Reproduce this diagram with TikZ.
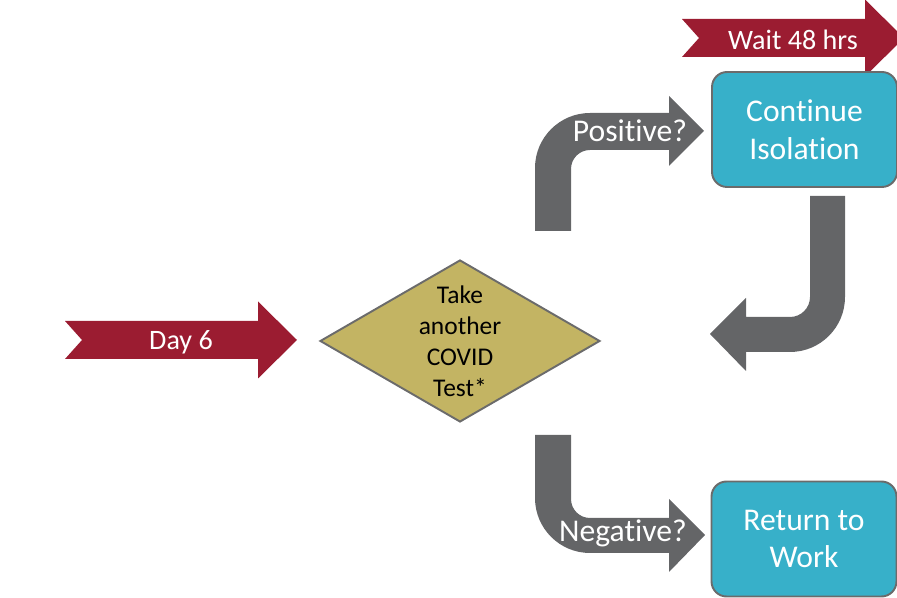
\documentclass[tikz,border=0pt]{standalone}
\usepackage{fontspec}
\setmainfont{Carlito}[Ligatures=NoCommon]
\usetikzlibrary{calc,positioning,shapes.geometric}
\definecolor{covidred}{HTML}{9B1C31}
\definecolor{arrowgray}{HTML}{646567}
\definecolor{edgegray}{HTML}{6B6B6B}
\definecolor{testgold}{HTML}{C3B463}
\definecolor{boxteal}{HTML}{37B0C9}

\begin{document}
\begin{tikzpicture}[
  x=0.02cm, y=0.02cm,
  ribbon/.style={fill=covidred},
  ribbon text/.style={text=white,font=\fontsize{16}{19}\selectfont},
  grayband/.style={fill=arrowgray},
  grayband text/.style={text=white,font=\fontsize{18}{21.5}\selectfont},
  decision/.style={diamond,draw=edgegray,line width=1.1pt,fill=testgold,inner sep=0pt,
    minimum width=5.6cm,minimum height=3.24cm},
  result/.style={rectangle,rounded corners=0.3cm,draw=edgegray,line width=1.1pt,
    fill=boxteal,text=white,align=center,minimum width=3.7cm,minimum height=2.3cm,
    font=\fontsize{18}{21.5}\selectfont},
  ]

  \useasboundingbox (0,0) rectangle (897,598);
  \clip (0,0) rectangle (897,598);

  \foreach \xa/\xb/\yc/\nm/\txt in {65/258/258/day/Day 6, 682/865/560/wait/Wait 48 hrs}
  {
  \fill[ribbon] (\xa,\yc+19) -- (\xa+17,\yc) -- (\xa,\yc-19) -- (\xb,\yc-19) -- (\xb,\yc-38.5)
    -- (\xb+39,\yc) -- (\xb,\yc+38.5) -- (\xb,\yc+19) -- cycle;
  \node[ribbon text] (\nm) at ({(\xa+\xb+39)/2},\yc-2) {\txt};
  }

  \node[decision] (test) at (460,257) {};
  \node[align=center,font=\fontsize{14.5}{17.6}\selectfont] (testtext) at (test) {Take\\another\\COVID\\Test*};

  \node[result] (isolate) at (804.5,468.5) {Continue\\Isolation};
  \node[result] (work) at (804,59) {Return to\\Work};

  \fill[grayband] (535,367) -- (535,430) arc[start angle=180,end angle=90,radius=55] -- (669,485)
    -- (669,502) -- (704,467) -- (669,432) -- (669,448) -- (590,448)
    arc[start angle=90,end angle=180,radius=19] -- (571,367) -- cycle;
  \node[grayband text] (pos) at (630,467) {Positive?};

  \fill[grayband] (810,402) -- (845,402) -- (845,301) arc[start angle=0,end angle=-90,radius=55]
    -- (746,246) -- (746,227) -- (710,264) -- (746,300) -- (746,281) -- (790,281)
    arc[start angle=-90,end angle=0,radius=20] -- cycle;

  \fill[grayband] (535,163) -- (535,100) arc[start angle=180,end angle=270,radius=55] -- (669,45)
    -- (669,26) -- (705,63) -- (669,99) -- (669,80) -- (590,80)
    arc[start angle=270,end angle=180,radius=19] -- (571,163) -- cycle;
  \node[grayband text] (neg) at (623,65) {Negative?};

\end{tikzpicture}
\end{document}
